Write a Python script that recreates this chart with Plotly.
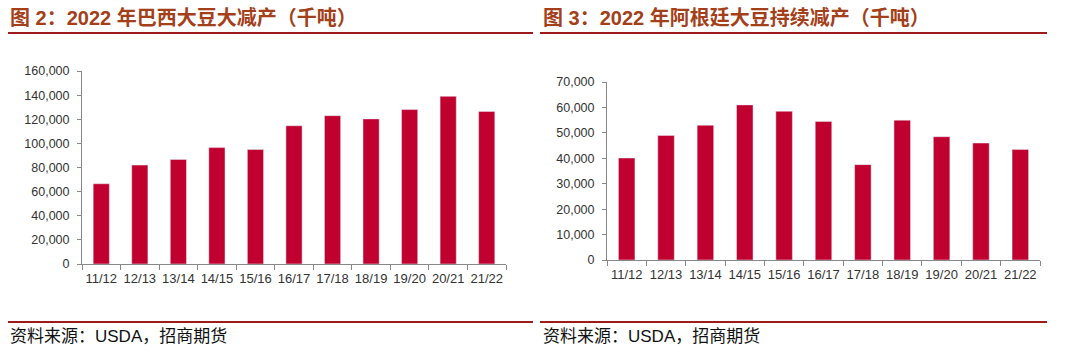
import plotly.graph_objects as go

categories = ["11/12", "12/13", "13/14", "14/15", "15/16", "16/17", "17/18", "18/19", "19/20", "20/21", "21/22"]
brazil = [66500, 82000, 86700, 96500, 95000, 114600, 123000, 120300, 128000, 139000, 126500]
argentina = [40100, 49000, 53000, 61000, 58500, 54500, 37500, 55000, 48500, 46000, 43500]
brazil_ticks = [0, 20000, 40000, 60000, 80000, 100000, 120000, 140000, 160000]
argentina_ticks = [0, 10000, 20000, 30000, 40000, 50000, 60000, 70000]

title_left = "图 2：2022 年巴西大豆大减产（千吨）"
title_right = "图 3：2022 年阿根廷大豆持续减产（千吨）"
source_text = "资料来源：USDA，招商期货"

BAR = "#C0002F"
AX = "#888888"
TXT = "#333333"
TITLE_C = "#A3401A"
LINE_C = "#9E1B1B"
W, H = 1080, 356

fig = go.Figure()
fig.add_trace(go.Bar(x=categories, y=brazil, marker_color=BAR, xaxis="x", yaxis="y", showlegend=False))
fig.add_trace(go.Bar(x=categories, y=argentina, marker_color=BAR, xaxis="x2", yaxis="y2", showlegend=False))

def fmt(v):
    return f"{v:,}"

FONT = "Liberation Sans, Arial"
common_x = dict(type="category", showline=True, linecolor=AX, linewidth=1, ticks="outside",
                tickson="boundaries", ticklen=5, tickcolor=AX, showgrid=False, tickangle=0,
                automargin=False, ticklabelstandoff=2,
                tickfont=dict(family=FONT, size=13, color=TXT), fixedrange=True)
common_y = dict(showline=True, linecolor=AX, linewidth=1, ticks="outside", ticklen=4, tickcolor=AX,
                showgrid=False, zeroline=False, automargin=False, ticklabelstandoff=5,
                tickfont=dict(family=FONT, size=12.5, color=TXT))

fig.update_layout(
    width=W, height=H, margin=dict(l=0, r=0, t=0, b=0, autoexpand=False),
    paper_bgcolor="white", plot_bgcolor="white", bargap=0.58,
    xaxis=dict(domain=[82 / W, 506 / W], anchor="y", **common_x),
    yaxis=dict(domain=[(H - 264) / H, (H - 71) / H], anchor="x", range=[0, 160000],
               tickvals=brazil_ticks, ticktext=[fmt(v) for v in brazil_ticks], **common_y),
    xaxis2=dict(domain=[607 / W, 1040 / W], anchor="y2", **common_x),
    yaxis2=dict(domain=[(H - 260) / H, (H - 82) / H], anchor="x2", range=[0, 70000],
                tickvals=argentina_ticks, ticktext=[fmt(v) for v in argentina_ticks], **common_y),
)

def px_x(p):
    return p / W

def px_y(p):
    return 1 - p / H

CJK = "Liberation Sans, Arial, Noto Sans CJK SC"
ann = []
for x0, t in [(8, title_left), (541, title_right)]:
    ann.append(dict(x=px_x(x0), y=px_y(18), xref="paper", yref="paper", xanchor="left", yanchor="middle",
                    text="<b>" + t + "</b>", showarrow=False,
                    font=dict(family=CJK, size=20, color=TITLE_C)))
    ann.append(dict(x=px_x(x0), y=px_y(336), xref="paper", yref="paper", xanchor="left", yanchor="middle",
                    text=source_text, showarrow=False,
                    font=dict(family=CJK, size=17, color="#111111")))
fig.update_layout(annotations=ann)

shapes = []
for (x0, x1) in [(8, 533), (540, 1047)]:
    for yy in [33, 322]:
        shapes.append(dict(type="line", xref="paper", yref="paper", x0=px_x(x0), x1=px_x(x1),
                           y0=px_y(yy), y1=px_y(yy), line=dict(color=LINE_C, width=2)))
fig.update_layout(shapes=shapes)

fig.write_html("out.html", config={"displayModeBar": False, "staticPlot": True},
               post_script="document.body.style.margin='0px';document.body.style.overflow='hidden';")
